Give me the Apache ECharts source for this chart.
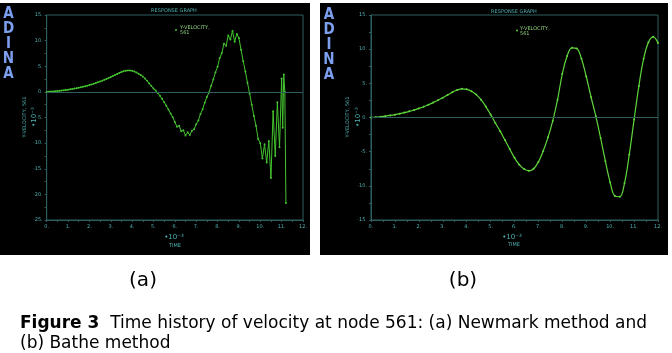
<!DOCTYPE html>
<html><head><meta charset="utf-8">
<script src="https://cdn.jsdelivr.net/npm/echarts/dist/echarts.min.js"></script>
<style>html,body{margin:0;padding:0;background:#fff}#c{width:672px;height:353px}</style>
</head><body><div id="c"></div>
<script>
// ---- data (time in 1e-3 units, velocity in 1e-3 units) ----
const newmarkTime = [
  0,0.1,0.2,0.3,0.4,0.5,0.6,0.7,0.8,0.9,
  1.0,1.1,1.2,1.3,1.4,1.5,1.6,1.7,1.8,1.9,
  2.0,2.1,2.2,2.3,2.4,2.5,2.6,2.7,2.8,2.9,
  3.0,3.1,3.2,3.3,3.4,3.5,3.6,3.7,3.8,3.9,
  4.0,4.1,4.2,4.3,4.4,4.5,4.6,4.7,4.8,4.9,
  5.0,5.1,5.2,5.3,5.4,5.5,5.6,5.7,5.8,5.9,
  6.0,6.1,6.2,6.3,6.4,6.5,6.6,6.7,6.8,6.9,
  7.0,7.1,7.2,7.3,7.4,7.5,7.6,7.7,7.8,7.9,
  8.0,8.1,8.2,8.3,8.4,8.5,8.6,8.7,8.8,8.9,
  9.0,9.1,9.2,9.3,9.4,9.5,9.6,9.7,9.8,9.9,
  10.0,10.1,10.2,10.3,10.4,10.5,10.6,10.7,10.8,10.9,
  11.0,11.05,11.1,11.15,11.2
];
const newmarkVel = [
  0,0.02,0.05,0.08,0.12,0.16,0.2,0.25,0.3,0.36,
  0.42,0.49,0.56,0.64,0.72,0.81,0.9,1.0,1.1,1.21,
  1.33,1.45,1.58,1.72,1.87,2.02,2.18,2.35,2.52,2.7,
  2.9,3.1,3.3,3.5,3.7,3.87,4.02,4.13,4.18,4.17,
  4.1,3.98,3.8,3.55,3.3,3.0,2.6,2.15,1.65,1.15,
  0.65,0.25,-0.2,-0.75,-1.35,-2.0,-2.7,-3.45,-4.2,-4.95,
  -5.9,-6.8,-6.6,-7.7,-7.5,-8.5,-7.9,-8.4,-7.6,-7.3,
  -6.3,-5.6,-4.3,-3.4,-2.1,-1.0,-0.1,1.2,2.4,3.8,
  4.9,6.6,7.6,9.4,9.0,11.0,10.2,11.9,9.8,11.3,
  10.5,8.2,6.0,4.0,1.8,-0.3,-2.5,-4.7,-6.6,-9.2,
  -10.0,-13.0,-10.2,-13.8,-9.6,-16.8,-3.8,-12.5,-2.0,-10.8,
  2.6,-7.0,3.4,0.0,-21.7
];
const batheTime = [
  0,0.2,0.4,0.6,0.8,1.0,1.2,1.4,1.6,1.8,
  2.0,2.2,2.4,2.6,2.8,3.0,3.2,3.4,3.6,3.8,
  4.0,4.2,4.4,4.6,4.8,5.0,5.2,5.4,5.6,5.8,
  6.0,6.2,6.4,6.6,6.8,7.0,7.2,7.4,7.6,7.8,
  8.0,8.2,8.4,8.6,8.8,9.0,9.2,9.4,9.6,9.8,
  10.0,10.2,10.4,10.6,10.8,11.0,11.2,11.4,11.6,11.8,12.0
];
const batheVel = [
  0,0.05,0.12,0.2,0.3,0.42,0.56,0.72,0.9,1.1,
  1.33,1.58,1.87,2.18,2.52,2.9,3.3,3.7,4.02,4.2,
  4.12,3.85,3.35,2.6,1.6,0.45,-0.8,-2.0,-3.3,-4.6,
  -5.9,-6.9,-7.55,-7.8,-7.5,-6.5,-4.9,-2.9,-0.5,2.6,
  6.4,9.0,10.2,10.1,8.6,6.0,3.0,0.2,-3.0,-6.4,
  -9.5,-11.5,-11.6,-9.6,-5.4,-0.3,4.6,8.6,11.0,11.8,10.9
];
const xTickLabels = ['0.','1.','2.','3.','4.','5.','6.','7.','8.','9.','10.','11.','12.'];
const seriesName = 'Y-VELOCITY, 561';

// ---- styles ----
const FRAME = '#2f5e5e';
const LBL = '#4fb0b0';
const GREEN_A = '#45c330';
const GREEN_B = '#5fd63c';
const BLUE = '#7d9ff0';

function xAx(gi){
  return {type:'value', gridIndex:gi, min:0, max:12, interval:1,
    axisLine:{show:true, onZero:false, lineStyle:{color:FRAME, width:1}},
    axisTick:{show:true, length:2, lineStyle:{color:FRAME}},
    minorTick:{show:true, splitNumber:2, length:2, lineStyle:{color:FRAME}},
    axisLabel:{fontSize:5, color:LBL, margin:4, fontFamily:'DejaVu Sans',
      formatter:(v)=>xTickLabels[Math.round(v)]},
    splitLine:{show:false}};
}
function yAx(gi, mn, mx){
  return {type:'value', gridIndex:gi, min:mn, max:mx, interval:5,
    axisLine:{show:true, onZero:false, lineStyle:{color:FRAME, width:1}},
    axisTick:{show:true, length:2, lineStyle:{color:FRAME}},
    minorTick:{show:true, splitNumber:2, length:2, lineStyle:{color:FRAME}},
    axisLabel:{fontSize:5, color:LBL, margin:4, fontFamily:'DejaVu Sans',
      formatter:(v)=>v+'.'},
    splitLine:{show:false}};
}
function zeroLine(){
  return {silent:true, symbol:'none', label:{show:false},
    lineStyle:{color:FRAME, width:1, type:'solid'}, data:[{yAxis:0}]};
}
function zip(t,v){ return t.map((x,i)=>[x,v[i]]); }

function adina(x, y0){
  return ['A','D','I','N','A'].map((ch,i)=>({type:'text', x:x, y:y0+i*15,
    style:{text:ch, fill:BLUE, font:'bold 15px "DejaVu Sans Condensed","DejaVu Sans"', align:'center', verticalAlign:'top'}}));
}
function tiny(x,y,txt,color,opt){
  return Object.assign({type:'text', x:x, y:y,
    style:{text:txt, fill:color||LBL, font:'5px "DejaVu Sans"', align:'center', verticalAlign:'middle'}}, opt||{});
}

const chart = echarts.init(document.getElementById('c'), null, {renderer:'canvas'});
const graphics = [
  {type:'rect', shape:{x:0,y:3,width:310,height:252}, style:{fill:'#000'}, z:-10},
  {type:'rect', shape:{x:320,y:3,width:348,height:252}, style:{fill:'#000'}, z:-10},
  ...adina(8.5, 7),
  ...adina(329, 8),
  tiny(174, 11, 'RESPONSE GRAPH'),
  tiny(514, 12, 'RESPONSE GRAPH'),
  {type:'circle', shape:{cx:176, cy:30, r:1}, style:{fill:GREEN_A}},
  {type:'text', x:180, y:30, style:{text:'Y-VELOCITY,\n561', fill:'#8fd07f', font:'5px "DejaVu Sans"', verticalAlign:'middle', lineHeight:5}},
  {type:'circle', shape:{cx:517, cy:30.5, r:1}, style:{fill:GREEN_B}},
  {type:'text', x:520, y:31, style:{text:'Y-VELOCITY,\n561', fill:'#8fd07f', font:'5px "DejaVu Sans"', verticalAlign:'middle', lineHeight:5}},
  // y axis names
  {type:'text', x:25, y:117, rotation:Math.PI/2, style:{text:seriesName, fill:LBL, font:'5px "DejaVu Sans"', align:'center', verticalAlign:'middle'}},
  {type:'text', x:34, y:117, rotation:Math.PI/2, style:{text:'•10⁻³', fill:LBL, font:'7px "DejaVu Sans"', align:'center', verticalAlign:'middle'}},
  {type:'text', x:348, y:117, rotation:Math.PI/2, style:{text:seriesName, fill:LBL, font:'5px "DejaVu Sans"', align:'center', verticalAlign:'middle'}},
  {type:'text', x:358, y:117, rotation:Math.PI/2, style:{text:'•10⁻³', fill:LBL, font:'7px "DejaVu Sans"', align:'center', verticalAlign:'middle'}},
  // x axis names
  {type:'text', x:174, y:237, style:{text:'•10⁻³', fill:LBL, font:'7px "DejaVu Sans"', align:'center', verticalAlign:'middle'}},
  tiny(175, 246, 'TIME'),
  {type:'text', x:512, y:237, style:{text:'•10⁻³', fill:LBL, font:'7px "DejaVu Sans"', align:'center', verticalAlign:'middle'}},
  tiny(514, 245, 'TIME'),
  // panel captions
  {type:'text', x:143, y:281, style:{text:'(a)', fill:'#000', font:'20px "DejaVu Sans"', align:'center', verticalAlign:'middle'}},
  {type:'text', x:463, y:281, style:{text:'(b)', fill:'#000', font:'20px "DejaVu Sans"', align:'center', verticalAlign:'middle'}},
  {type:'text', x:20, y:334, style:{
    text:'{b|Figure 3}  Time history of velocity at node 561: (a) Newmark method and\n(b) Bathe method',
    fill:'#000', font:'17px "DejaVu Sans"', verticalAlign:'middle', lineHeight:20,
    rich:{b:{font:'bold 17px "DejaVu Sans"', fill:'#000'}}}}
];

chart.setOption({
  animation:false,
  backgroundColor:'#fff',
  grid:[
    {left:46.7, top:15, width:256.3, height:205, show:true, borderColor:FRAME, borderWidth:1, backgroundColor:'transparent'},
    {left:371, top:15, width:287, height:205, show:true, borderColor:FRAME, borderWidth:1, backgroundColor:'transparent'}
  ],
  xAxis:[xAx(0), xAx(1)],
  yAxis:[yAx(0,-25,15), yAx(1,-15,15)],
  series:[
    {name:seriesName, type:'line', xAxisIndex:0, yAxisIndex:0, data:zip(newmarkTime,newmarkVel),
      symbol:'circle', symbolSize:2, showAllSymbol:true, itemStyle:{color:GREEN_A},
      lineStyle:{color:GREEN_A, width:1}, markLine:zeroLine(), z:3},
    {name:seriesName, type:'line', xAxisIndex:1, yAxisIndex:1, data:zip(batheTime,batheVel),
      smooth:0.4, symbol:'circle', symbolSize:2, showAllSymbol:true, itemStyle:{color:GREEN_B},
      lineStyle:{color:GREEN_B, width:1.2}, markLine:zeroLine(), z:3}
  ],
  graphic:graphics
});
</script></body></html>
